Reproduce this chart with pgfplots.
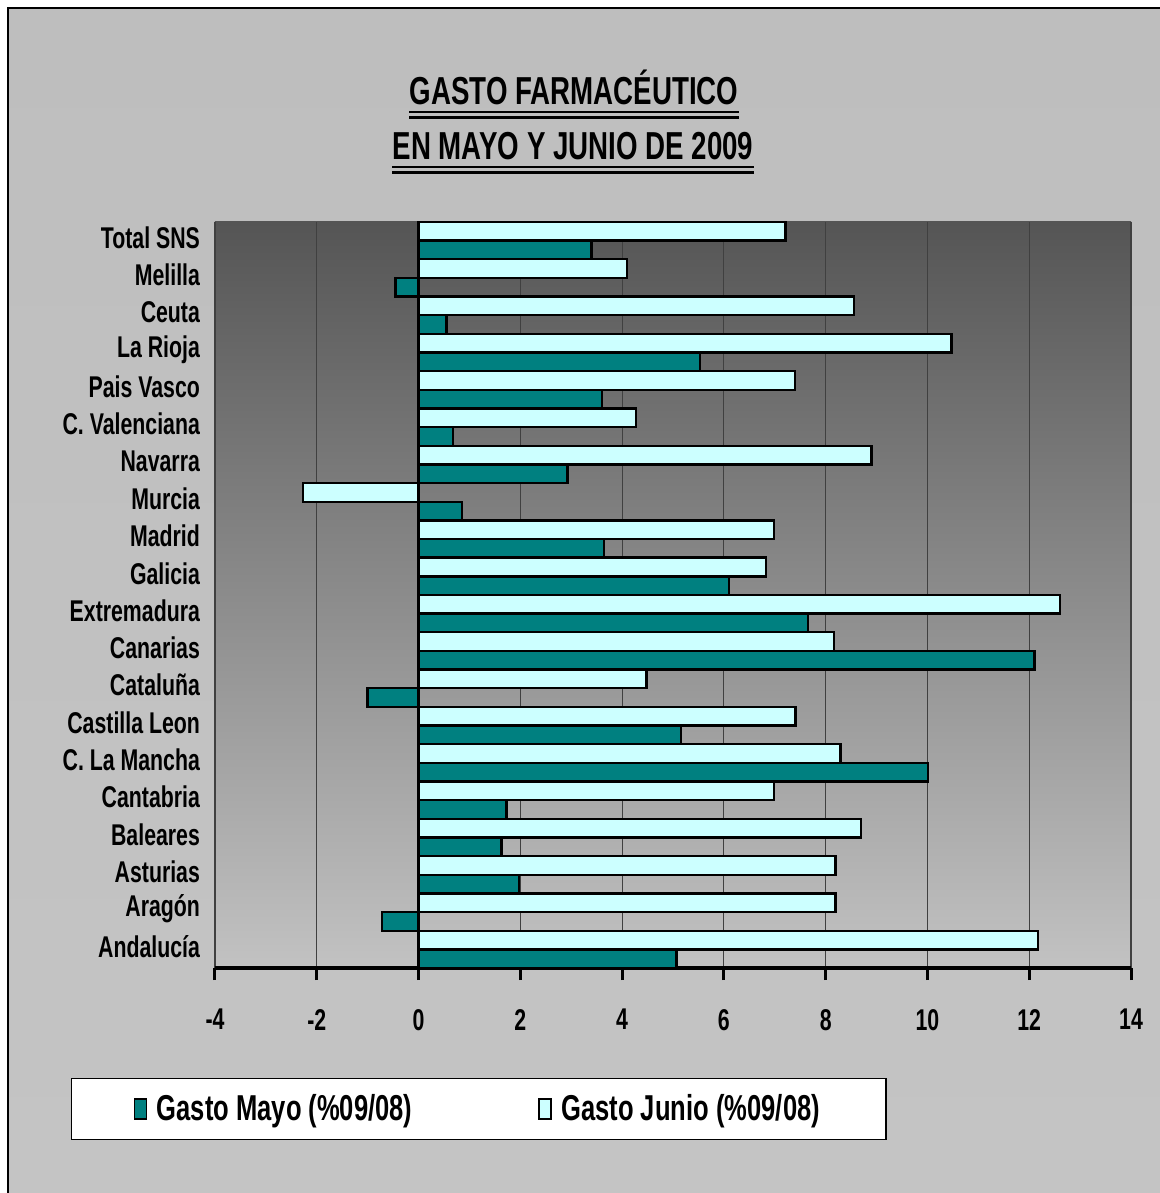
\documentclass[border=0pt]{standalone}
\usepackage{pgfplots}
\pgfplotsset{compat=1.18}
\usepackage{fontspec}
\setmainfont{Liberation Sans}[FakeStretch=0.71]

\definecolor{mayo}{HTML}{008080}
\definecolor{junio}{HTML}{CCFFFF}
\definecolor{bgtop}{HTML}{BEBEBE}
\definecolor{bgmid}{HTML}{DADADA}
\definecolor{bgbot}{HTML}{C4C4C4}
\definecolor{plottop}{HTML}{555555}
\definecolor{plotbot}{HTML}{C2C2C2}

\begin{document}
\begin{tikzpicture}
\useasboundingbox (0,0) rectangle (580pt,596.5pt);
% chart area background
\shade[top color=bgtop, middle color=bgmid, bottom color=bgbot, draw=black, line width=0.8pt]
  (4pt,-1pt) rectangle (581pt,592.5pt);

% title with double underline
\node[font=\fontsize{19.5}{22}\selectfont\bfseries, inner sep=0pt, anchor=base] (t1) at (287pt,544pt) {GASTO FARMACÉUTICO};
\node[font=\fontsize{19.5}{22}\selectfont\bfseries, inner sep=0pt, anchor=base] (t2) at (286.5pt,516.5pt) {EN MAYO Y JUNIO DE 2009};
\foreach \n in {t1,t2}{
  \draw[line width=1.3pt] ([yshift=-3.5pt]\n.base west) -- ([yshift=-3.5pt]\n.base east);
  \draw[line width=1.3pt] ([yshift=-6.3pt]\n.base west) -- ([yshift=-6.3pt]\n.base east);
}

\begin{axis}[
  at={(107.5pt,112.5pt)}, anchor=south west,
  scale only axis, width=458pt, height=373pt,
  xmin=-4, xmax=14, ymin=-0.5, ymax=19.5,
  xbar, bar width=0.5,
  axis lines*=left,
  x axis line style={-, line width=2pt},
  y axis line style={draw=none},
  xtick={-4,-2,0,2,4,6,8,10,12,14},
  xticklabels={-4,-2,0,2,4,6,8,10,12,14},
  xtick pos=lower,
  tick align=outside,
  major tick length=6pt,
  xtick style={line width=1.5pt, black},
  ytick={0,...,19},
  yticklabels={Andalucía,Aragón,Asturias,Baleares,Cantabria,C. La Mancha,Castilla Leon,Cataluña,Canarias,Extremadura,Galicia,Madrid,Murcia,Navarra,C. Valenciana,Pais Vasco,La Rioja,Ceuta,Melilla,Total SNS},
  ytick style={draw=none},
  xticklabel style={font=\fontsize{15}{17}\selectfont\bfseries, yshift=-11pt},
  yticklabel style={font=\fontsize{15}{17}\selectfont\bfseries, anchor=east, xshift=2pt, yshift=1.5pt},
  xmajorgrids,
  grid style={black!75, line width=0.6pt},
  axis background/.style={shade, top color=plottop, bottom color=plotbot},
  legend columns=2,
  legend style={at={(-0.157,-0.1475)}, anchor=north west, draw=black, line width=0.6pt,
    fill=white, font=\fontsize{18}{21}\selectfont\bfseries,
    inner xsep=31pt, inner ysep=6pt,
    /tikz/every even column/.append style={column sep=61pt}},
  legend image code/.code={\draw[#1, line width=0.8pt] (0pt,-5pt) rectangle (6pt,5pt); \path (8.5pt,0pt);},
]
% Gasto Mayo
\addplot[fill=mayo, draw=black, line width=1.2pt, bar shift=-0.25] coordinates {
  (5.07,0) (-0.72,1) (1.97,2) (1.63,3) (1.73,4) (10.01,5) (5.16,6) (-1.00,7)
  (12.10,8) (7.65,9) (6.10,10) (3.64,11) (0.85,12) (2.93,13) (0.68,14)
  (3.61,15) (5.53,16) (0.55,17) (-0.45,18) (3.40,19)
};
\addlegendentry{Gasto Mayo (\%09/08)}
% Gasto Junio
\addplot[fill=junio, draw=black, line width=1.2pt, bar shift=0.25] coordinates {
  (12.17,0) (8.19,1) (8.19,2) (8.70,3) (6.98,4) (8.29,5) (7.41,6) (4.48,7)
  (8.16,8) (12.60,9) (6.83,10) (6.98,11) (-2.27,12) (8.90,13) (4.27,14)
  (7.40,15) (10.47,16) (8.56,17) (4.10,18) (7.21,19)
};
\addlegendentry{Gasto Junio (\%09/08)}
\draw[line width=1.6pt] (axis cs:0,-0.5) -- (axis cs:0,19.5);
\end{axis}
\end{tikzpicture}
\end{document}
